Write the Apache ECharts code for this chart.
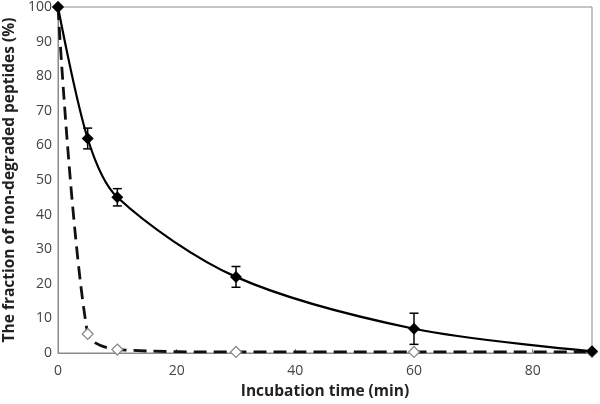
<!DOCTYPE html>
<html><head><meta charset="utf-8">
<script src="https://cdn.jsdelivr.net/npm/echarts@6/dist/echarts.min.js"></script>
<style>html,body{margin:0;padding:0;background:#fff}#c{width:600px;height:404px}</style>
</head><body><div id="c"></div>
<script>
const times = [0, 5, 10, 30, 60, 90];
const solidValues = [100, 62, 45, 22, 7, 0.5];
const solidErr = [0, 3, 2.5, 3, 4.5, 0];
const dashedValues = [100, 5.5, 1, 0.3, 0.3, 0.3];
const xTicks = [0, 20, 40, 60, 80];
const yTicks = [0, 10, 20, 30, 40, 50, 60, 70, 80, 90, 100];

const chart = echarts.init(document.getElementById('c'));
const solidData = times.map((t, i) => [t, solidValues[i]]);
const dashedData = times.map((t, i) => [t, dashedValues[i]]);
const errData = times.map((t, i) => [t, solidValues[i] - solidErr[i], solidValues[i] + solidErr[i]]).filter((d, i) => solidErr[i] > 0);

chart.setOption({
  animation: false,
  grid: { left: 58, right: 8, top: 7, bottom: 51, show: true, borderColor: '#8a8a8a', borderWidth: 1,
    containLabel: false, outerBoundsMode: 'none' },
  xAxis: {
    type: 'value', min: 0, max: 90, interval: 20,
    name: 'Incubation time (min)', nameLocation: 'middle', nameGap: 31,
    nameTextStyle: { fontFamily: 'Open Sans', fontWeight: 'bold', fontSize: 15.5, color: '#222' },
    axisLine: { lineStyle: { color: '#8a8a8a' } },
    axisTick: { show: true, inside: true, length: 4, lineStyle: { color: '#8a8a8a' } },
    axisLabel: { fontFamily: 'Open Sans', fontSize: 14, color: '#444', margin: 11,
      formatter: v => xTicks.includes(v) ? String(v) : '' },
    splitLine: { show: false }
  },
  yAxis: {
    type: 'value', min: 0, max: 100, interval: 10,
    name: 'The fraction of non-degraded peptides (%)', nameLocation: 'middle', nameGap: 33,
    nameTextStyle: { fontFamily: 'Open Sans', fontWeight: 'bold', fontSize: 15.5, color: '#222' },
    axisLine: { show: true, lineStyle: { color: '#8a8a8a' } },
    axisTick: { show: false },
    axisLabel: { fontFamily: 'Open Sans', fontSize: 14, color: '#444', margin: 6,
      formatter: v => yTicks.includes(v) ? String(v) : '' },
    splitLine: { show: false }
  },
  series: [
    {
      type: 'line', data: dashedData, smooth: 0.3,
      lineStyle: { color: '#111', width: 2.8, type: [13, 7] },
      symbol: 'diamond', symbolSize: 11,
      itemStyle: { color: '#fff', borderColor: '#888', borderWidth: 1.2 },
      z: 2
    },
    {
      type: 'line', data: solidData, smooth: 0.3,
      lineStyle: { color: '#000', width: 2.2 },
      symbol: 'diamond', symbolSize: 12,
      itemStyle: { color: '#000' },
      z: 3
    },
    {
      type: 'custom', data: errData, z: 4,
      renderItem: function (params, api) {
        const x = api.value(0);
        const lo = api.coord([x, api.value(1)]);
        const hi = api.coord([x, api.value(2)]);
        const w = 4.5;
        const st = { stroke: '#000', lineWidth: 1.5 };
        return { type: 'group', children: [
          { type: 'line', shape: { x1: lo[0], y1: lo[1], x2: hi[0], y2: hi[1] }, style: st },
          { type: 'line', shape: { x1: lo[0] - w, y1: lo[1], x2: lo[0] + w, y2: lo[1] }, style: st },
          { type: 'line', shape: { x1: hi[0] - w, y1: hi[1], x2: hi[0] + w, y2: hi[1] }, style: st }
        ]};
      }
    }
  ]
});
</script></body></html>
